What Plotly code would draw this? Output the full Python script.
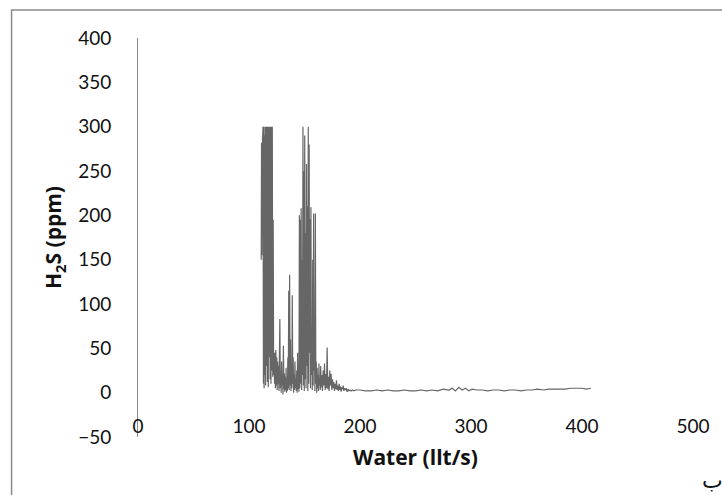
import plotly.graph_objects as go

# Water flow (lit/s)
water = [
    111.0, 111.3, 111.6, 112.0, 112.3, 112.6, 113.0, 113.3, 113.6, 114.0,
    114.3, 114.6, 115.0, 115.4, 115.8, 116.2, 116.6, 117.0, 117.4, 117.8,
    118.2, 118.6, 119.0, 119.4, 119.8, 120.2, 120.6, 121.0, 121.4, 121.8,
    122.2, 122.6, 123.0,
    123.4, 123.8, 124.2, 124.6, 125.0, 125.4, 125.8, 126.2, 126.6, 127.0,
    127.4, 127.8, 128.2, 128.6, 129.0, 129.4, 129.8, 130.2, 130.6, 131.0,
    131.4, 131.8, 132.2, 132.6, 133.0, 133.4, 133.8, 134.2, 134.6, 135.0,
    135.4, 135.8, 136.2, 136.6, 137.0, 137.4, 137.8, 138.2, 138.6, 139.0,
    139.4, 139.8, 140.2, 140.6, 141.0, 141.4, 141.8, 142.2, 142.6, 143.0,
    143.4, 143.8, 144.2, 144.6, 145.0, 145.4, 145.8, 146.2, 146.6, 147.0,
    147.4, 147.8, 148.2, 148.6, 149.0, 149.4, 149.8, 150.2, 150.6, 151.0,
    151.4, 151.8, 152.2, 152.6, 153.0, 153.4, 153.8, 154.2, 154.6, 155.0,
    155.4, 155.8, 156.2, 156.6, 157.0, 157.4, 157.8, 158.2, 158.6, 159.0,
    159.4, 159.8, 160.2, 160.6, 161.0, 161.4, 161.8, 162.2, 162.6, 163.0,
    163.4, 163.8, 164.2, 164.6, 165.0, 165.6, 166.2, 166.8, 167.4, 168.0,
    168.6, 169.2, 169.8, 170.4, 171.0, 171.6, 172.2, 172.8, 173.4, 174.0,
    174.6, 175.2, 175.8, 176.4, 177.0, 177.6, 178.2, 178.8, 179.4, 180.0,
    180.6, 181.2, 181.8, 182.4, 183.0, 183.6, 184.2, 184.8, 185.4, 186.0,
    186.8, 187.6, 188.4, 189.2, 190.0, 191.0, 192.0, 193.0, 194.5, 196.0,
    200.0, 205.0, 210.0, 215.0, 220.0, 225.0, 230.0, 235.0, 240.0, 245.0,
    250.0, 255.0, 260.0, 265.0, 270.0, 275.0, 280.0, 283.0, 286.0, 289.0,
    292.0, 295.0, 298.0, 301.0, 305.0, 310.0, 315.0, 320.0, 325.0, 330.0,
    335.0, 340.0, 345.0, 350.0, 355.0, 360.0, 365.0, 370.0, 375.0, 380.0,
    385.0, 390.0, 395.0, 400.0, 404.0, 408.0,
]

# H2S concentration (ppm)
h2s = [
    150, 282, 155, 278, 152, 300, 10, 300, 5, 290,
    20, 300, 8, 300, 30, 300, 12, 300, 6, 300,
    40, 300, 15, 300, 10, 300, 25, 300, 18, 195,
    20, 45, 10,
    45, 5, 48, 8, 40, 3, 35, 10, 30, 2,
    28, 83, 5, 25, 0, 35, 8, 20, -2, 53,
    4, 22, 1, 18, 3, 28, 0, 15, 2, 40,
    5, 115, 3, 133, 8, 60, 2, 30, 5, 110,
    10, 40, 0, 20, 3, 35, 5, 15, 2, 25,
    0, 45, 4, 30, 1, 200, 5, 195, 10, 208,
    3, 150, 20, 300, 8, 250, 2, 290, 15, 180,
    5, 258, 30, 210, 2, 300, 10, 280, 45, 196,
    5, 209, 20, 60, 3, 150, 8, 202, 25, 40,
    2, 202, 10, 35, 0, 28, 5, 20, 2, 33,
    8, 15, 3, 30, 6, 20, 2, 25, 8, 33,
    3, 21, 5, 51, 4, 18, 2, 25, 8, 21,
    3, 15, 5, 12, 2, 10, 4, 14, 3, 8,
    2, 10, 3, 7, 1, 6, 4, 8, 2, 5,
    3, 5, 1, 4, 2, 3, 2, 3, 2, 3,
    3, 2, 2, 3, 2, 3, 2, 2, 3, 2,
    2, 3, 2, 3, 2, 4, 3, 5, 2, 6,
    3, 5, 2, 4, 3, 3, 2, 3, 3, 2,
    3, 3, 2, 3, 3, 4, 3, 4, 4, 4,
    4, 5, 5, 5, 4, 5,
]

x_ticks = [0, 100, 200, 300, 400, 500]
y_ticks = [-50, 0, 50, 100, 150, 200, 250, 300, 350, 400]

TICK_FONT = "Lato"
TITLE_FONT = "Open Sans"

fig = go.Figure()
fig.add_trace(go.Scatter(
    x=water, y=h2s, mode="lines",
    line=dict(color="#666666", width=1.2),
    showlegend=False, hoverinfo="skip",
))

fig.update_layout(
    width=722, height=495,
    margin=dict(l=138, r=22, t=38, b=58),
    paper_bgcolor="white", plot_bgcolor="white",
    font=dict(family=TICK_FONT, color="#111", size=19),
    xaxis=dict(
        range=[0, 500], tickvals=x_ticks, showgrid=False, zeroline=False,
        showline=False, ticks="", anchor="free", position=0.06,
        tickfont=dict(family=TICK_FONT, size=19, color="#111"),
        title=dict(text="<b>Water (llt/s)</b>", font=dict(family=TITLE_FONT, size=21, color="#111"), standoff=14),
    ),
    yaxis=dict(
        range=[-50, 400], tickvals=y_ticks, showgrid=False, zeroline=False,
        showline=True, linecolor="#8a8a8a", linewidth=1, ticks="",
        ticklabelstandoff=22,
        tickfont=dict(family=TICK_FONT, size=19, color="#111"),
        title=dict(text="<b>H<sub>2</sub>S (ppm)</b>", font=dict(family=TITLE_FONT, size=21, color="#111"), standoff=10),
    ),
    shapes=[dict(
        type="rect", xref="paper", yref="paper",
        x0=-0.2278, y0=-0.3, x1=1.2, y1=1.0702,
        line=dict(color="#8a8a8a", width=1.5), fillcolor="rgba(0,0,0,0)", layer="below",
    )],
    annotations=[dict(
        text="ب", xref="paper", yref="paper", x=1.035, y=-0.145,
        xanchor="center", yanchor="bottom", showarrow=False,
        font=dict(family="DejaVu Sans", size=22, color="#111"),
    )],
)

fig.write_html(
    "out.html",
    config={"displayModeBar": False},
    post_script="document.body.style.margin='0';",
)
